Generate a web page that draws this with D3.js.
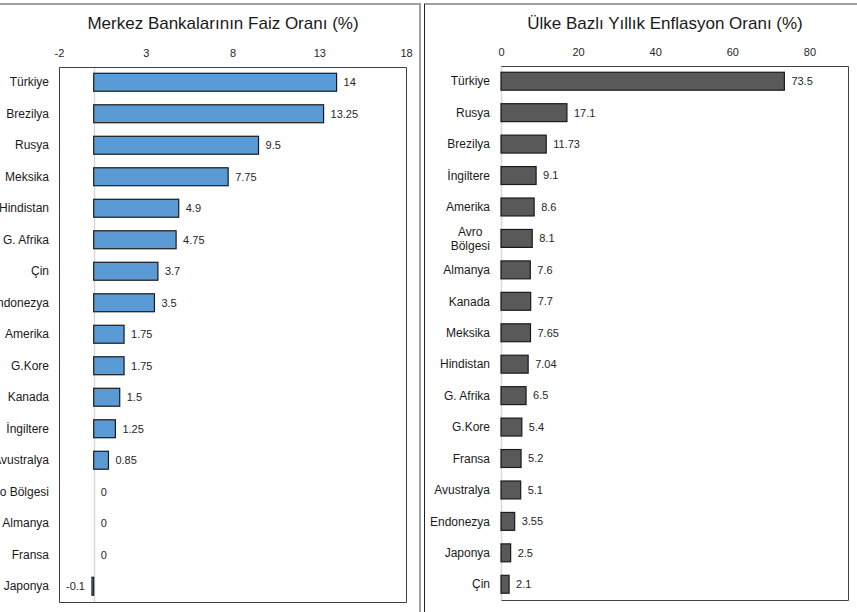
<!DOCTYPE html>
<html>
<head>
<meta charset="utf-8">
<script src="https://cdn.jsdelivr.net/npm/d3@7/dist/d3.min.js"></script>
<style>
  html, body { margin: 0; padding: 0; background: #fff; }
  svg { display: block; font-family: "Liberation Sans", Arial, sans-serif; }
</style>
</head>
<body>
<svg id="chart" width="857" height="612"></svg>
<script>
// Central bank policy rates (%)
const rateCountries = ["Türkiye", "Brezilya", "Rusya", "Meksika", "Hindistan", "G. Afrika", "Çin",
  "Endonezya", "Amerika", "G.Kore", "Kanada", "İngiltere", "Avustralya", "Avro Bölgesi",
  "Almanya", "Fransa", "Japonya"];
const rateValues = [14, 13.25, 9.5, 7.75, 4.9, 4.75, 3.7, 3.5, 1.75, 1.75, 1.5, 1.25, 0.85, 0, 0, 0, -0.1];
const rateTicks = [-2, 3, 8, 13, 18];

// Annual inflation by country (%)
const inflCountries = ["Türkiye", "Rusya", "Brezilya", "İngiltere", "Amerika", "Avro\nBölgesi",
  "Almanya", "Kanada", "Meksika", "Hindistan", "G. Afrika", "G.Kore", "Fransa", "Avustralya",
  "Endonezya", "Japonya", "Çin"];
const inflValues = [73.5, 17.1, 11.73, 9.1, 8.6, 8.1, 7.6, 7.7, 7.65, 7.04, 6.5, 5.4, 5.2, 5.1, 3.55, 2.5, 2.1];
const inflTicks = [0, 20, 40, 60, 80];

const svg = d3.select("#chart");

// Panel frames
svg.append("path").attr("d", "M0,4 H420 V612").attr("fill", "none")
  .attr("stroke", "#a0a0a0").attr("stroke-width", 2);
svg.append("path").attr("d", "M857,4 H424").attr("fill", "none")
  .attr("stroke", "#a0a0a0").attr("stroke-width", 2);
svg.append("line").attr("x1", 424.5).attr("x2", 424.5).attr("y1", 4).attr("y2", 612)
  .attr("stroke", "#222").attr("stroke-width", 1);

function drawPanel(cfg) {
  const g = svg.append("g");
  const x = d3.scaleLinear().domain(cfg.domain).range([cfg.left, cfg.right]);
  const y = d3.scaleBand().domain(cfg.cats).range([cfg.top, cfg.bottom])
    .paddingInner(0.43).paddingOuter(0.215);

  // Title
  g.append("text").attr("x", cfg.titleX).attr("y", 29)
    .attr("text-anchor", "middle").attr("font-size", 17).attr("fill", "#1a1a1a")
    .text(cfg.title);

  // Top value axis (labels only)
  const ax = g.append("g").attr("transform", `translate(0,${cfg.top})`)
    .call(d3.axisTop(x).tickValues(cfg.ticks).tickSize(0).tickPadding(9.5).tickFormat(d => String(d)));
  ax.select(".domain").remove();
  ax.selectAll("text").attr("font-size", 11).attr("fill", "#262626")
    .attr("font-family", "Liberation Sans, Arial, sans-serif");

  // Zero line
  g.append("line").attr("x1", Math.round(x(0)) + 0.5).attr("x2", Math.round(x(0)) + 0.5)
    .attr("y1", cfg.top).attr("y2", cfg.bottom).attr("stroke", "#d9d9d9").attr("stroke-width", 1.5);

  // Plot frame
  const L = Math.round(cfg.left) + 0.5, R = Math.round(cfg.right) + 0.5,
        T = Math.round(cfg.top) + 0.5, B = Math.round(cfg.bottom) + 0.5;
  g.append("path")
    .attr("d", cfg.leftEdge ? `M${L},${T} H${R} V${B} H${L} Z` : `M${L},${T} H${R} V${B} H${L}`)
    .attr("fill", "none").attr("stroke", "#404040").attr("stroke-width", 1);

  // Bars
  g.selectAll("rect.bar").data(cfg.values).join("rect").attr("class", "bar")
    .attr("x", d => x(Math.min(0, d)))
    .attr("y", (d, i) => y(cfg.cats[i]))
    .attr("width", d => Math.abs(x(d) - x(0)))
    .attr("height", y.bandwidth())
    .attr("fill", cfg.color).attr("stroke", "#1a1a1a").attr("stroke-width", 1.2);

  // Value labels
  g.selectAll("text.val").data(cfg.values).join("text").attr("class", "val")
    .attr("x", d => d < 0 ? x(d) - 7 : x(d) + 7)
    .attr("y", (d, i) => y(cfg.cats[i]) + y.bandwidth() / 2)
    .attr("dy", "0.35em")
    .attr("text-anchor", d => d < 0 ? "end" : "start")
    .attr("font-size", 11).attr("fill", "#262626")
    .text(d => String(d));

  // Category labels
  cfg.cats.forEach(c => {
    const lines = c.split("\n");
    const cy = y(c) + y.bandwidth() / 2;
    const lx = cfg.left - cfg.labelGap;
    const t = g.append("text").attr("font-size", 12).attr("fill", "#1a1a1a");
    if (lines.length === 1) {
      t.attr("x", lx).attr("y", cy).attr("dy", "0.35em").attr("text-anchor", "end").text(c);
    } else {
      lines.forEach((ln, k) => {
        t.append("tspan").attr("y", cy + (k - (lines.length - 1) / 2) * 14)
          .attr("dy", "0.35em").text(ln);
      });
      const widths = [];
      t.selectAll("tspan").each(function () { widths.push(this.getComputedTextLength()); });
      const cx = lx - d3.max(widths) / 2;
      t.attr("text-anchor", "middle").selectAll("tspan").attr("x", cx);
    }
  });
}

drawPanel({
  title: "Merkez Bankalarının Faiz Oranı (%)", titleX: 223,
  cats: rateCountries, values: rateValues, ticks: rateTicks,
  domain: [-2, 18], left: 59, right: 406, top: 66.5, bottom: 602,
  color: "#5b9bd5", labelGap: 10, leftEdge: true
});

drawPanel({
  title: "Ülke Bazlı Yıllık Enflasyon Oranı (%)", titleX: 665,
  cats: inflCountries, values: inflValues, ticks: inflTicks,
  domain: [0, 90], left: 501, right: 848, top: 65.5, bottom: 600,
  color: "#595959", labelGap: 11, leftEdge: false
});
</script>
</body>
</html>
